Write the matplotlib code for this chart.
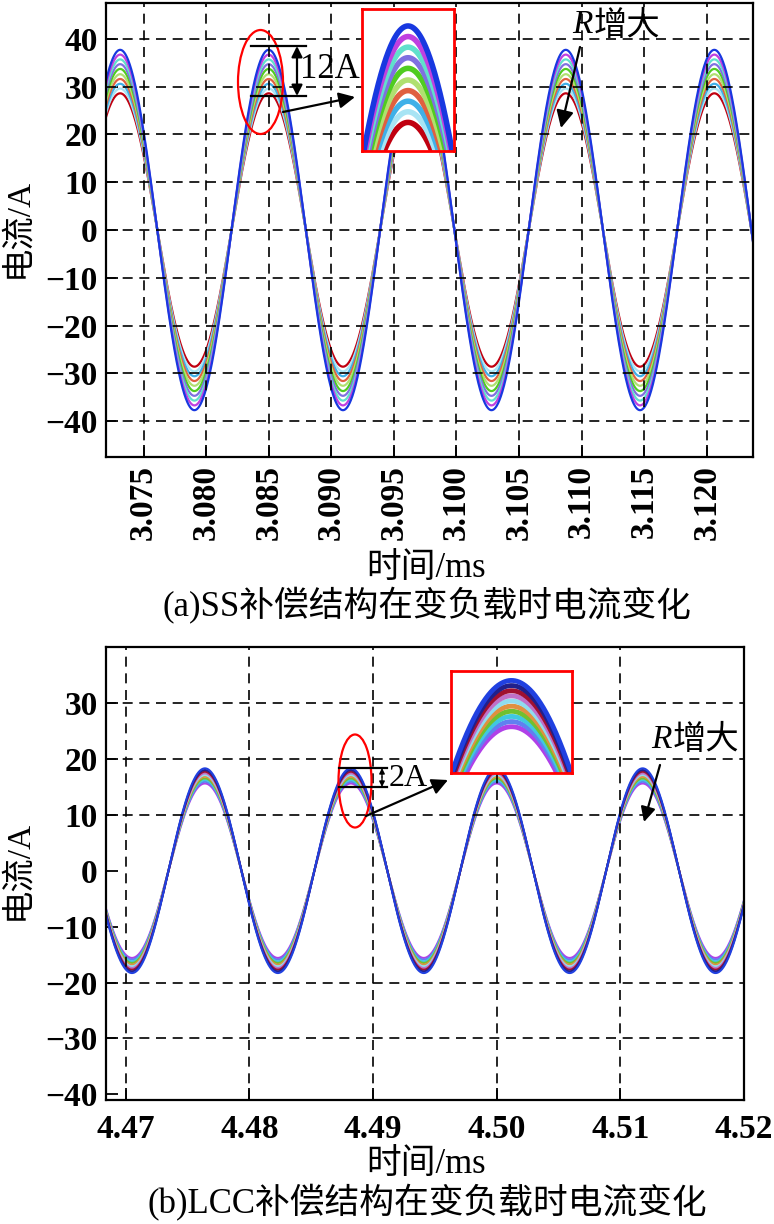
import numpy as np
import matplotlib
matplotlib.use("Agg")
import matplotlib.pyplot as plt
from matplotlib.patches import Ellipse, FancyArrowPatch
from matplotlib.lines import Line2D

# ---------------- data ----------------
ss_xticks = [3.075, 3.080, 3.085, 3.090, 3.095, 3.100, 3.105, 3.110, 3.115, 3.120]
ss_xticklabels = ["3.075", "3.080", "3.085", "3.090", "3.095", "3.100", "3.105", "3.110", "3.115", "3.120"]
ss_yticks = [-40, -30, -20, -10, 0, 10, 20, 30, 40]
ss_xlim = (3.0720, 3.1237)
ss_ylim = (-47.5, 47.5)
ss_period = 0.01187          # ms
ss_peak_time = 3.0850        # ms, time of a crest
ss_amplitudes = [37.7, 36.7, 35.7, 34.7, 33.7, 32.6, 31.6, 30.6, 29.6, 28.6]
ss_colors = ["#1838e0", "#c040e0", "#60e0cc", "#8070e0", "#50cc20",
             "#b0e070", "#e06040", "#40b0e8", "#a8e4f4", "#c00010"]

lcc_xticks = [4.47, 4.48, 4.49, 4.50, 4.51, 4.52]
lcc_xticklabels = ["4.47", "4.48", "4.49", "4.50", "4.51", "4.52"]
lcc_yticks = [-40, -30, -20, -10, 0, 10, 20, 30]
lcc_hgrid = [30, 20, 10, -20, -30]
lcc_vgrid = [4.47, 4.48, 4.49, 4.50, 4.51]
lcc_xlim = (4.4684, 4.5200)
lcc_ylim = (-41.0, 40.0)
lcc_period = 0.01180
lcc_peak_time = 4.5000
lcc_amplitudes = [18.3, 18.0, 17.7, 17.4, 17.1, 16.8, 16.5, 16.2, 15.9, 15.6]
lcc_colors = ["#2040e0", "#20208c", "#a01030", "#c070c8", "#90dcef",
              "#e09040", "#70c030", "#40c8e0", "#6080f0", "#b040e8"]

# ---------------- style ----------------
W, H = 774, 1224
MIX = ["Liberation Serif", "Noto Sans CJK SC"]
SERIF = "Liberation Serif"
GRID_LS = (0, (6, 4))


def F(x, y):
    return (x / W, 1 - y / H)


def fmt(v):
    return str(v).replace("-", "\u2212")


fig = plt.figure(figsize=(W / 100, H / 100), dpi=100)


def style_axes(ax, xticks, xlabels, yticks, xlim, ylim, rot):
    ax.set_xlim(*xlim)
    ax.set_ylim(*ylim)
    ax.set_xticks(xticks)
    ax.set_xticklabels(xlabels, rotation=rot, fontsize=24, family=SERIF, weight="bold")
    ax.set_yticks(yticks)
    ax.set_yticklabels([fmt(v) for v in yticks], fontsize=24, family=SERIF, weight="bold")
    ax.tick_params(direction="in", length=8.5, width=1.3, pad=6, top=False, right=False)
    for s in ax.spines.values():
        s.set_linewidth(1.6)
        s.set_color("black")


def waves(ax, xlim, amps, cols, period, t0, lw, zorder=2):
    t = np.linspace(xlim[0], xlim[1], 3000)
    for a, c in list(zip(amps, cols))[::-1]:
        ax.plot(t, a * np.cos(2 * np.pi * (t - t0) / period), color=c, lw=lw, zorder=zorder)


# ---------------- (a) SS ----------------
ax1 = fig.add_axes([106 / W, 1 - 457 / H, (753 - 106) / W, (457 - 3) / H])
waves(ax1, ss_xlim, ss_amplitudes, ss_colors, ss_period, ss_peak_time, 1.6)
for x in ss_xticks:
    ax1.axvline(x, color="k", lw=1.2, ls=GRID_LS, zorder=3)
for y in ss_yticks:
    ax1.axhline(y, color="k", lw=1.2, ls=GRID_LS, zorder=3)
style_axes(ax1, ss_xticks, ss_xticklabels, ss_yticks, ss_xlim, ss_ylim, 90)

# ---------------- (b) LCC ----------------
ax2 = fig.add_axes([106 / W, 1 - 1100 / H, (744 - 106) / W, (1100 - 647) / H])
waves(ax2, lcc_xlim, lcc_amplitudes, lcc_colors, lcc_period, lcc_peak_time, 1.5)
for x in lcc_vgrid:
    ax2.axvline(x, color="k", lw=1.2, ls=GRID_LS, zorder=3)
for y in lcc_hgrid:
    ax2.axhline(y, color="k", lw=1.2, ls=GRID_LS, zorder=3)
style_axes(ax2, lcc_xticks, lcc_xticklabels, lcc_yticks, lcc_xlim, lcc_ylim, 0)
ax2.tick_params(axis="x", pad=10)

# ---------------- labels / captions ----------------
fig.text(*F(18, 228), "电流/A", rotation=90, ha="center", va="center", fontsize=24, family=MIX)
fig.text(*F(18, 870), "电流/A", rotation=90, ha="center", va="center", fontsize=24, family=MIX)
fig.text(*F(426, 569), "时间/ms", ha="center", va="center", fontsize=25, family=MIX)
fig.text(*F(427, 606), "(a)SS补偿结构在变负载时电流变化", ha="center", va="center", fontsize=25, family=MIX)
fig.text(*F(426, 1164), "时间/ms", ha="center", va="center", fontsize=25, family=MIX)
fig.text(*F(427, 1203), "(b)LCC补偿结构在变负载时电流变化", ha="center", va="center", fontsize=25, family=MIX)

# ---------------- insets ----------------
def inset(x0, y0, x1, y1, xlim, ylim, amps, cols, period, t0, lw):
    ax = fig.add_axes([x0 / W, 1 - y1 / H, (x1 - x0) / W, (y1 - y0) / H], zorder=5)
    waves(ax, xlim, amps, cols, period, t0, lw)
    ax.set_xlim(*xlim)
    ax.set_ylim(*ylim)
    ax.set_xticks([])
    ax.set_yticks([])
    for s in ax.spines.values():
        s.set_color("red")
        s.set_linewidth(2.0)
    return ax


ss_inset_peak = ss_peak_time + ss_period
inset(362, 9, 454, 151, (ss_inset_peak - 0.0016, ss_inset_peak + 0.0016), (25.9, 39.3),
      ss_amplitudes, ss_colors, ss_period, ss_peak_time, 4.0)
inset(451, 671, 572, 773, (lcc_peak_time - 0.0015, lcc_peak_time + 0.0015), (12.9, 18.85),
      lcc_amplitudes, lcc_colors, lcc_period, lcc_peak_time, 3.5)

# ---------------- annotations ----------------
def ell(cx, cy, w, h):
    e = Ellipse(F(cx, cy), w / W, h / H, transform=fig.transFigure, fill=False,
                ec="red", lw=1.6, zorder=6)
    fig.add_artist(e)


def hline(x0, x1, y):
    fig.add_artist(Line2D([x0 / W, x1 / W], [1 - y / H, 1 - y / H], transform=fig.transFigure,
                          color="k", lw=1.6, zorder=6))


def arrow(xa, ya, xb, yb, style="-|>", ms=22, lw=1.6):
    fig.add_artist(FancyArrowPatch(F(xa, ya), F(xb, yb), transform=fig.transFigure,
                                   arrowstyle=style, mutation_scale=ms, lw=lw, color="k",
                                   shrinkA=0, shrinkB=0, zorder=6))


def rtext(x, y, size):
    fig.text(*F(x, y), "R", ha="right", va="center", fontsize=size, family=SERIF,
             style="italic", zorder=7)
    fig.text(*F(x + 1, y), "增大", ha="left", va="center", fontsize=size,
             family=["Noto Sans CJK SC"], zorder=7)


# top
ell(260.5, 82, 45, 104)
hline(251, 306, 46)
hline(251, 306, 96)
arrow(297, 71, 297, 46, ms=16)
arrow(297, 71, 297, 96, ms=16)
fig.text(*F(330, 69), "12A", ha="center", va="center", fontsize=25, family=SERIF, zorder=7)
arrow(283, 112, 355, 97, ms=24)
rtext(593, 25, 24)
arrow(580, 47, 561, 128, ms=26)

# bottom
ell(355, 781, 33, 93)
hline(339, 387, 768)
hline(339, 387, 787)
arrow(382, 777, 382, 768, ms=8, lw=1.0)
arrow(382, 777, 382, 787, ms=8, lw=1.0)
fig.text(*F(408, 779), "2A", ha="center", va="center", fontsize=23, family=SERIF, zorder=7)
arrow(366, 816, 448, 780, ms=24)
rtext(672, 740, 24)
arrow(660, 765, 644, 822, ms=22)

fig.savefig("out.png", dpi=100)
